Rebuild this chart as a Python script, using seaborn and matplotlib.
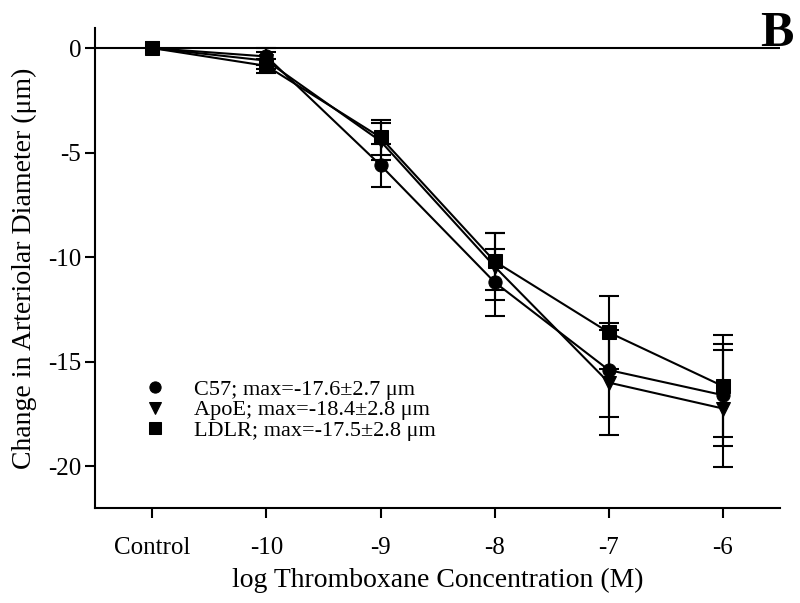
import numpy as np
import pandas as pd
import matplotlib
matplotlib.use("Agg")
import matplotlib.pyplot as plt
import seaborn as sns

# values
doses = ["Control", "-10", "-9", "-8", "-7", "-6"]
c57_mean = [0.0, -0.4, -5.6, -11.2, -15.4, -16.6]
c57_sem = [0.0, 0.4, 1.03, 1.6, 2.25, 2.45]
apoe_mean = [0.0, -0.6, -4.45, -10.45, -16.0, -17.24]
apoe_sem = [0.0, 0.4, 0.88, 1.6, 2.5, 2.8]
ldlr_mean = [0.0, -0.85, -4.27, -10.2, -13.6, -16.17]
ldlr_sem = [0.0, 0.35, 0.83, 1.35, 1.75, 2.45]
labels = ["C57; max=-17.6\u00b12.7 \u03bcm",
          "ApoE; max=-18.4\u00b12.8 \u03bcm",
          "LDLR; max=-17.5\u00b12.8 \u03bcm"]

sns.set_style("ticks", {"axes.edgecolor": "black", "text.color": "black",
                        "axes.labelcolor": "black", "xtick.color": "black",
                        "ytick.color": "black"})
plt.rcParams['font.family'] = ['Liberation Serif', 'DejaVu Serif']
plt.rcParams['axes.unicode_minus'] = False

pos = np.arange(len(doses))
df = pd.concat([
    pd.DataFrame({"x": pos, "y": c57_mean, "err": c57_sem, "group": labels[0]}),
    pd.DataFrame({"x": pos, "y": apoe_mean, "err": apoe_sem, "group": labels[1]}),
    pd.DataFrame({"x": pos, "y": ldlr_mean, "err": ldlr_sem, "group": labels[2]}),
])

fig = plt.figure(figsize=(8, 6.03), dpi=100)
ax = fig.add_axes([0.119, 0.1575, 0.856, 0.796])

ax.axhline(0, color="black", lw=1.5, zorder=1)

for lab in labels:
    d = df[(df["group"] == lab) & (df["err"] > 0)]
    ax.errorbar(d["x"], d["y"], yerr=d["err"], fmt="none", ecolor="black",
                elinewidth=1.5, capsize=7, capthick=1.5, zorder=2)

sns.lineplot(data=df, x="x", y="y", style="group", markers=["o", "v", "s"],
             dashes=False, color="black", lw=1.5, markersize=9.5,
             markeredgecolor="black", ax=ax, zorder=3)

ax.set_xlim(-0.5, 5.5)
ax.set_ylim(-22, 0.96)
ax.set_xticks(pos)
ax.set_xticklabels(doses)
ax.set_yticks([0, -5, -10, -15, -20])
ax.tick_params(axis="both", labelsize=18, length=7, width=1.5, direction="out")
ax.tick_params(axis="x", pad=14)
ax.tick_params(axis="y", pad=3)
for s in ["top", "right"]:
    ax.spines[s].set_visible(False)
for s in ["left", "bottom"]:
    ax.spines[s].set_linewidth(1.5)

ax.set_xlabel("log Thromboxane Concentration (M)", fontsize=20, labelpad=6)
ax.set_ylabel("Change in Arteriolar Diameter (\u03bcm)", fontsize=20, labelpad=8)

leg = ax.legend(loc="lower left", bbox_to_anchor=(0.042, 0.098), frameon=False,
                fontsize=16, handlelength=1.0, labelspacing=0.0, handletextpad=1.25,
                markerscale=0.85)
for h in leg.legend_handles:
    h.set_linestyle("none")

fig.text(0.992, 0.982, "B", fontsize=36, fontweight="bold", ha="right", va="top")

fig.savefig("out.png", dpi=100)
